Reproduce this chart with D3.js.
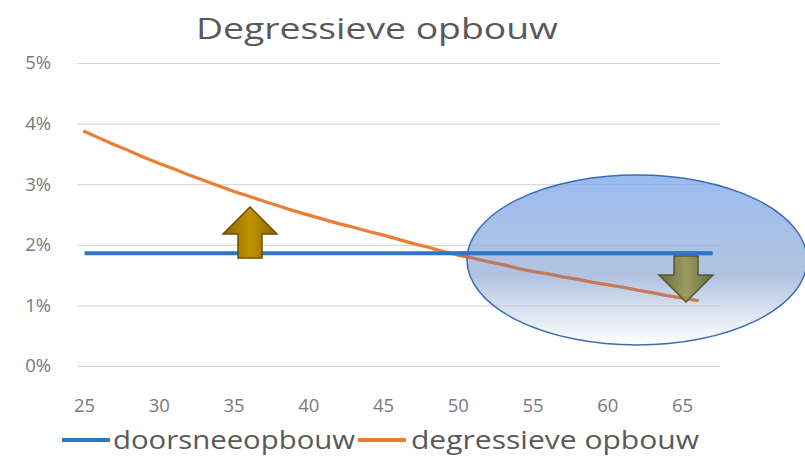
<!DOCTYPE html>
<html>
<head>
<meta charset="utf-8">
<script src="https://cdn.jsdelivr.net/npm/d3@7"></script>
<style>
  body { margin: 0; background: #fff; }
  text { font-family: "Open Sans", "Noto Sans", sans-serif; }
</style>
</head>
<body>
<svg width="805" height="457"></svg>
<script>
const ages = d3.range(25, 68);
const tickAges = [25, 30, 35, 40, 45, 50, 55, 60, 65];
const yTicks = [0, 0.01, 0.02, 0.03, 0.04, 0.05];
// doorsneeopbouw: flat rate for ages 25..67
const doorsnee = ages.map(() => 0.0186);
// degressieve opbouw: ages 25..66
const degressief = [
  0.0387, 0.0376, 0.0365, 0.0355, 0.0344, 0.0334, 0.0325, 0.0315, 0.0306, 0.0297,
  0.0288, 0.0280, 0.0272, 0.0264, 0.0256, 0.0249, 0.0242, 0.0235, 0.0229, 0.0222,
  0.0216, 0.0209, 0.0202, 0.0196, 0.0189, 0.0183, 0.0178, 0.0172, 0.0167, 0.0161,
  0.0156, 0.0152, 0.0147, 0.0143, 0.0138, 0.0134, 0.0130, 0.0125, 0.0121, 0.0116,
  0.0112, 0.0108
];
const seriesNames = ['doorsneeopbouw', 'degressieve opbouw'];
const colors = ['#2e75c6', '#ed7d31'];

const svg = d3.select('svg');
const m = { top: 63, right: 85, bottom: 91, left: 77 };
const width = +svg.attr('width') - m.left - m.right;
const height = +svg.attr('height') - m.top - m.bottom;
const g = svg.append('g').attr('transform', `translate(${m.left}, ${m.top})`);

const x = d3.scaleBand().domain(ages).range([0, width]);
const cx = a => x(a) + x.bandwidth() / 2;
const y = d3.scaleLinear().domain([0, 0.05]).range([height, 0]);

const blueData = doorsnee.map((v, i) => ({ age: ages[i], v }));
const orangeData = degressief.map((v, i) => ({ age: ages[i], v }));

// title
svg.append('text')
  .attr('x', 377).attr('y', 39)
  .attr('text-anchor', 'middle')
  .attr('fill', '#595959')
  .attr('font-size', 30)
  .attr('textLength', 362).attr('lengthAdjust', 'spacingAndGlyphs')
  .text('Degressieve opbouw');

// gridlines + y labels
const yAxis = g.append('g')
  .call(d3.axisLeft(y).tickValues(yTicks).tickSize(-width).tickFormat(d3.format('.0%')));
yAxis.select('.domain').remove();
yAxis.selectAll('.tick line').attr('stroke', '#d9d9d9').attr('stroke-width', 1.2);
yAxis.selectAll('.tick text')
  .attr('x', -26).attr('fill', '#7a7a7a').attr('font-size', 18.5)
  .style('font-family', '"Open Sans", sans-serif');

// x labels
const xAxis = g.append('g')
  .attr('transform', `translate(0, ${height})`)
  .call(d3.axisBottom(x).tickValues(tickAges).tickSize(0));
xAxis.select('.domain').remove();
xAxis.selectAll('.tick text')
  .attr('y', 33).attr('fill', '#7a7a7a').attr('font-size', 18.5)
  .style('font-family', '"Open Sans", sans-serif');

const line = d3.line().x(d => cx(d.age)).y(d => y(d.v));

g.append('path')
  .datum(orangeData)
  .attr('fill', 'none')
  .attr('stroke', colors[1])
  .attr('stroke-width', 3.2)
  .attr('stroke-linejoin', 'round')
  .attr('stroke-linecap', 'round')
  .attr('d', line);

g.append('path')
  .datum(blueData)
  .attr('fill', 'none')
  .attr('stroke', colors[0])
  .attr('stroke-width', 4)
  .attr('d', line);

// arrows
const defs = svg.append('defs');
const gradUp = defs.append('linearGradient').attr('id', 'gUp').attr('x1', 0).attr('x2', 1);
gradUp.append('stop').attr('offset', '0%').attr('stop-color', '#8a6400');
gradUp.append('stop').attr('offset', '50%').attr('stop-color', '#c09400');
gradUp.append('stop').attr('offset', '100%').attr('stop-color', '#8a6400');
const gradDown = defs.append('linearGradient').attr('id', 'gDown').attr('x1', 0).attr('x2', 1);
gradDown.append('stop').attr('offset', '0%').attr('stop-color', '#5e6134');
gradDown.append('stop').attr('offset', '50%').attr('stop-color', '#979650');
gradDown.append('stop').attr('offset', '100%').attr('stop-color', '#5e6134');

function arrow(px, top, bottom, up, fill, stroke) {
  const hw = 27, sw = 12, head = 27;
  const pts = up
    ? [[px, top], [px + hw, top + head], [px + sw, top + head], [px + sw, bottom],
       [px - sw, bottom], [px - sw, top + head], [px - hw, top + head]]
    : [[px, bottom], [px + hw, bottom - head], [px + sw, bottom - head], [px + sw, top],
       [px - sw, top], [px - sw, bottom - head], [px - hw, bottom - head]];
  return svg.append('path')
    .attr('d', d3.line()(pts) + 'Z')
    .attr('fill', fill).attr('stroke', stroke).attr('stroke-width', 1.5);
}
arrow(250, 207, 258, true, 'url(#gUp)', '#6e5000');

// ellipse highlight
const gradE = defs.append('linearGradient').attr('id', 'gE').attr('x1', 0).attr('x2', 0).attr('y1', 0).attr('y2', 1);
gradE.append('stop').attr('offset', '0%').attr('stop-color', '#7aa6ee').attr('stop-opacity', 0.95);
gradE.append('stop').attr('offset', '60%').attr('stop-color', '#8ea8d2').attr('stop-opacity', 0.85);
gradE.append('stop').attr('offset', '100%').attr('stop-color', '#ffffff').attr('stop-opacity', 0.8);

svg.append('ellipse')
  .attr('cx', 637).attr('cy', 260).attr('rx', 170).attr('ry', 85)
  .attr('fill', 'url(#gE)').attr('fill-opacity', 0.8)
  .attr('stroke', '#3a6db3').attr('stroke-width', 1.5);

// lines seen through the ellipse
const over = svg.append('g').attr('transform', `translate(${m.left}, ${m.top})`);
over.append('path')
  .datum(orangeData.filter(d => d.age >= 50))
  .attr('fill', 'none')
  .attr('stroke', '#c9714a')
  .attr('stroke-opacity', 0.85)
  .attr('stroke-width', 3)
  .attr('stroke-linecap', 'round')
  .attr('d', line);
over.append('path')
  .datum(blueData.filter(d => d.age >= 50))
  .attr('fill', 'none')
  .attr('stroke', colors[0])
  .attr('stroke-width', 4)
  .attr('d', line);

arrow(686, 256, 302, false, 'url(#gDown)', '#55582f').attr('fill-opacity', 0.9);

// legend
const legend = svg.append('g').attr('transform', 'translate(0, 440)');
const legendX = [[62, 113], [358, 411]];
seriesNames.forEach((name, i) => {
  legend.append('line')
    .attr('x1', legendX[i][0]).attr('x2', legendX[i][0] + 48)
    .attr('y1', 0).attr('y2', 0)
    .attr('stroke', colors[i]).attr('stroke-width', 4);
  legend.append('text')
    .attr('x', legendX[i][1]).attr('y', 9)
    .attr('fill', '#595959').attr('font-size', 25)
    .attr('textLength', i === 0 ? 242 : 288).attr('lengthAdjust', 'spacingAndGlyphs')
    .text(name);
});
</script>
</body>
</html>
